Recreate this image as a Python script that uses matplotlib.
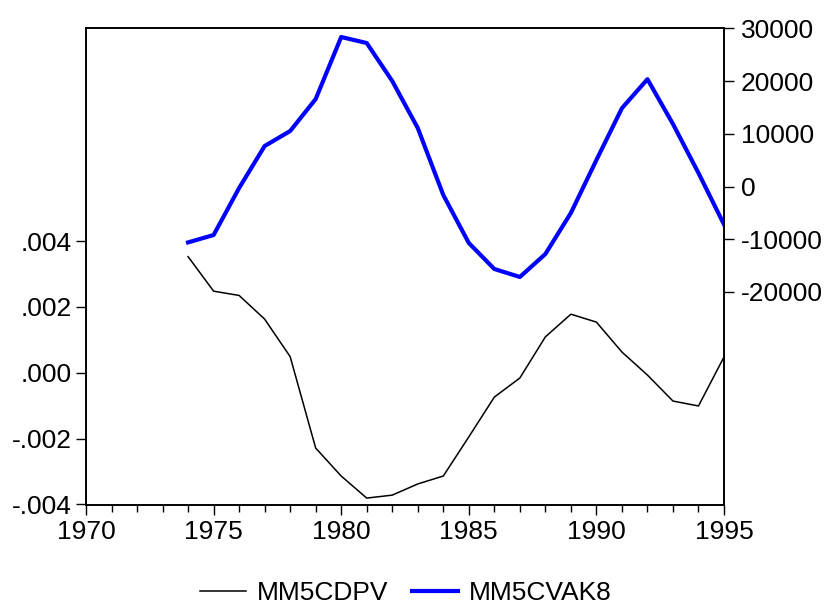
import matplotlib
matplotlib.use("Agg")
import matplotlib.pyplot as plt
from matplotlib.ticker import FuncFormatter, MultipleLocator

plt.rcParams['font.family'] = ['Liberation Sans', 'DejaVu Sans']
plt.rcParams['font.size'] = 19

years = list(range(1974, 1996))
mm5cdpv = [0.00353, 0.00248, 0.00235, 0.00163, 0.00049, -0.00229, -0.00314,
           -0.00381, -0.00372, -0.00338, -0.00314, -0.00195, -0.00074, -0.00016,
           0.00109, 0.00178, 0.00154, 0.00063, -0.00007, -0.00086, -0.00101, 0.00048]
mm5cvak8 = [-10600, -9200, -280, 7680, 10520, 16590, 28350, 27210, 20000, 11090,
            -1610, -10710, -15640, -17160, -12800, -5020, 5020, 14850, 20350,
            11850, 2560, -7200]
left_ticks = [-0.004, -0.002, 0.0, 0.002, 0.004]
right_ticks = [-20000, -10000, 0, 10000, 20000, 30000]

fig = plt.figure(figsize=(8.29, 6.08), dpi=100)
ax = fig.add_axes([86 / 829, 1 - 505 / 608, (724 - 86) / 829, (505 - 28) / 608])
ax2 = ax.twinx()

l1, = ax.plot(years, mm5cdpv, color='black', lw=1.1, label='MM5CDPV')
l2, = ax2.plot(years, mm5cvak8, color='#0000ff', lw=3.0, label='MM5CVAK8')

ax.set_xlim(1970, 1995)
ax.set_ylim(-0.00402, 0.01048)
ax2.set_ylim(-60400, 30060)

ax.set_yticks(left_ticks)
ax2.set_yticks(right_ticks)


def fmt_left(v, pos):
    s = '%.3f' % v
    if s.startswith('-0'):
        return '-' + s[2:]
    if s.startswith('0'):
        return s[1:]
    return s


ax.yaxis.set_major_formatter(FuncFormatter(fmt_left))
ax2.yaxis.set_major_formatter(FuncFormatter(lambda v, p: '%d' % v))

ax.xaxis.set_major_locator(MultipleLocator(5))
ax.xaxis.set_minor_locator(MultipleLocator(1))
ax.tick_params(axis='x', which='major', length=7, width=1, direction='out', pad=4)
ax.tick_params(axis='x', which='minor', length=5, width=1, direction='out')
ax.tick_params(axis='y', length=7, width=1, direction='out', pad=3)
ax2.tick_params(axis='y', length=7, width=1, direction='out', pad=5)

for a in (ax, ax2):
    for sp in a.spines.values():
        sp.set_linewidth(1.2)

fig.legend([l1, l2], ['MM5CDPV', 'MM5CVAK8'], loc='center', bbox_to_anchor=(406 / 829, 1 - 593 / 608),
           ncol=2, frameon=False, handlelength=1.75, handletextpad=0.4, columnspacing=0.9,
           fontsize=19, borderpad=0.2)

fig.savefig('out.png', dpi=100)
